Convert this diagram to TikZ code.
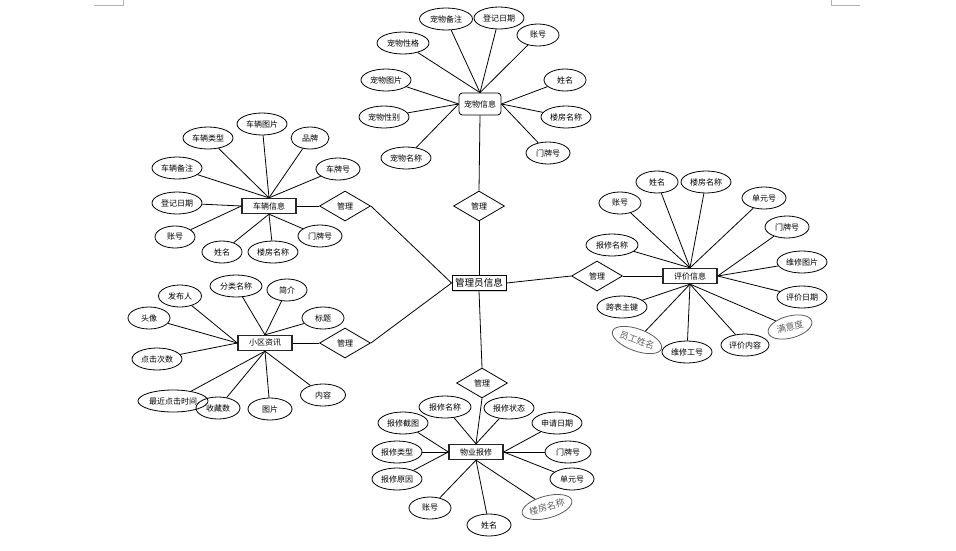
\documentclass[tikz,border=0pt]{standalone}
\usepackage{fontspec}
\newfontfamily\cjk{Noto Sans CJK SC}
\usetikzlibrary{shapes.geometric,shadows}
\newcommand\myattr[6][]{\node[attr=#5,#1] (#2) at (#3) {#4}; \draw[link] (#2) -- (#6);}
\begin{document}
\begin{tikzpicture}[x=0.75pt,y=-0.75pt,
  attr/.style={ellipse,draw,line width=0.6pt,minimum width=#1*0.75pt,minimum height=16.5pt,inner sep=0pt,font=\cjk\fontsize{6}{7}\selectfont},
  gattr/.style={text=gray!75!black,draw=gray!70!black,font=\cjk\fontsize{6.8}{8}\selectfont},
  ent/.style={draw=black!85,line width=1pt,minimum width=40.5pt,minimum height=11.25pt,inner sep=0pt,font=\cjk\fontsize{6}{7}\selectfont},
  rel/.style={diamond,draw,line width=0.6pt,minimum width=38.25pt,minimum height=22.5pt,inner sep=0pt,font=\cjk\fontsize{6}{7}\selectfont},
  link/.style={line width=0.6pt},
  cornermark/.style={draw=gray!60,line width=0.6pt}]
\useasboundingbox (0,0) rectangle (956,550);
% page corner marks
\coordinate (m1) at (94,5); \coordinate (m2) at (123,5); \coordinate (m3) at (123,0);
\coordinate (m4) at (831,0); \coordinate (m5) at (831,5); \coordinate (m6) at (860,5);
\draw[cornermark] (m1) -- (m2) -- (m3);
\draw[cornermark] (m4) -- (m5) -- (m6);

% central entity
\node[draw,line width=0.7pt,minimum width=40.5pt,minimum height=11.25pt,inner sep=0pt,fill=white,
  drop shadow={shadow xshift=0.8pt,shadow yshift=-0.8pt,fill=gray!60},font=\cjk\fontsize{7.2}{8}\selectfont] (admin) at (479,283) {管理员信息};

% relationships
\node[rel] (r1) at (479,206) {管理};
\node[rel] (r2) at (345,206) {管理};
\node[rel] (r3) at (345,343) {管理};
\node[rel] (r4) at (597,276) {管理};
\node[rel] (r5) at (482,383) {管理};

% entities
\node[draw,line width=0.6pt,rounded corners=2.5pt,minimum width=31.5pt,minimum height=16.5pt,inner sep=0pt,font=\cjk\fontsize{6}{7}\selectfont] (pet) at (480,104) {宠物信息};
\node[ent] (car) at (269,206) {车辆信息};
\node[ent] (news) at (265,343) {小区资讯};
\node[ent] (ev) at (690,276) {评价信息};
\node[ent] (rep) at (476,452) {物业报修};

\draw[link] (pet.south) -- (r1.north);
\draw[link] (r1.south) -- (admin.north);
\draw[link] (r2.east) -- (admin.west);
\draw[link] (r3.east) -- (admin.west);
\draw[link] (admin.east) -- (r4.west);
\draw[link] (admin.south) -- (r5.north);
\draw[link] (car.east) -- (r2.west);
\draw[link] (news.east) -- (r3.west);
\draw[link] (r4.east) -- (ev.west);
\draw[link] (r5.south) -- (rep.north);

% pet attributes
\myattr{p1}{446,19}{宠物备注}{53}{pet.north}
\myattr{p2}{499,18}{登记日期}{50}{pet.north}
\myattr{p3}{538,35}{账号}{42}{pet.north}
\myattr{p4}{403,43}{宠物性格}{52}{pet.north}
\myattr{p5}{386,80}{宠物图片}{50}{pet.west}
\myattr{p6}{565,80}{姓名}{42}{pet.east}
\myattr{p7}{384,117}{宠物性别}{50}{pet.west}
\myattr{p8}{566,117}{楼房名称}{50}{pet.east}
\myattr{p9}{406,158}{宠物名称}{50}{pet.west}
\myattr{p10}{548,153}{门牌号}{44}{pet.east}

% car attributes
\myattr{c1}{262,124}{车辆图片}{50}{car.north}
\myattr{c2}{208,138}{车辆类型}{50}{car.north}
\myattr{c3}{310,138}{品牌}{38}{car.north}
\myattr{c4}{177,168}{车辆备注}{50}{car.north}
\myattr{c5}{338,169}{车牌号}{44}{car.north}
\myattr{c6}{177,203}{登记日期}{50}{car.west}
\myattr{c7}{175,237}{账号}{40}{car.west}
\myattr{c8}{222,252}{姓名}{40}{car.south}
\myattr{c9}{273,252}{楼房名称}{50}{car.south}
\myattr{c10}{320,236}{门牌号}{44}{car.south}

% news attributes
\myattr{n1}{236,286}{分类名称}{52}{news.north}
\myattr{n2}{180,296}{发布人}{43}{news.west}
\myattr{n3}{287,290}{简介}{40}{news.north}
\myattr{n4}{149,318}{头像}{42}{news.west}
\myattr{n5}{323,318}{标题}{42}{news.north}
\myattr{n6}{157,359}{点击次数}{50}{news.west}
\myattr{n7}{323,395}{内容}{45}{news.south}
\myattr{n8}{173,401}{最近点击时间}{70}{news.south}
\myattr{n9}{218,408}{收藏数}{44}{news.south}
\myattr{n10}{270,409}{图片}{44}{news.south}

% evaluation attributes
\myattr{e1}{657,182}{姓名}{42}{ev.north}
\myattr{e2}{706,182}{楼房名称}{50}{ev.north}
\myattr{e3}{620,203}{账号}{42}{ev.north}
\myattr{e4}{764,198}{单元号}{44}{ev.north}
\myattr{e5}{787,227}{门牌号}{44}{ev.east}
\myattr{e6}{612,245}{报修名称}{52}{ev.north}
\myattr{e7}{802,262}{维修图片}{50}{ev.east}
\myattr{e8}{802,297}{评价日期}{50}{ev.east}
\myattr{e9}{622,307}{跨表主键}{50}{ev.south}
\myattr[gattr,rotate=-20]{e10}{637,340}{员工姓名}{52}{ev.south}
\myattr{e11}{687,352}{维修工号}{50}{ev.south}
\myattr{e12}{745,345}{评价内容}{48}{ev.south}
\myattr[gattr,rotate=15]{e13}{790,327}{满意度}{45}{ev.south}

% repair attributes
\myattr{w1}{445,407}{报修名称}{52}{rep.north}
\myattr{w2}{509,408}{报修状态}{50}{rep.north}
\myattr{w3}{403,423}{报修截图}{50}{rep.west}
\myattr{w4}{557,423}{申请日期}{50}{rep.east}
\myattr{w5}{397,452}{报修类型}{50}{rep.west}
\myattr{w6}{568,452}{门牌号}{46}{rep.east}
\myattr{w7}{397,479}{报修原因}{50}{rep.west}
\myattr{w8}{572,479}{单元号}{44}{rep.east}
\myattr{w9}{430,508}{账号}{42}{rep.south}
\myattr{w10}{489,525}{姓名}{44}{rep.south}
\myattr[gattr,rotate=15]{w11}{547,507}{楼房名称}{50}{rep.south}
\end{tikzpicture}
\end{document}
